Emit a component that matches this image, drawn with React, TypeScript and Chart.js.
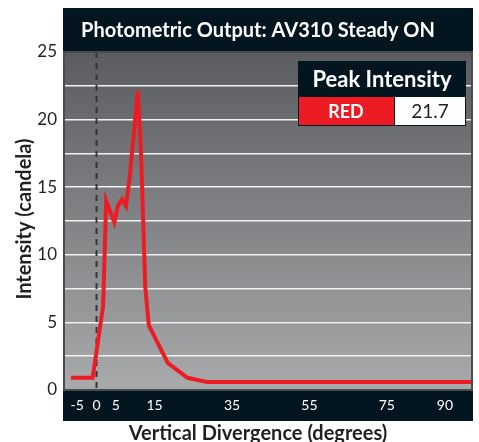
import React, { useEffect, useRef } from "react";
import { Chart, registerables } from "chart.js";

Chart.register(...registerables);

const chartTitle = "Photometric Output: AV310 Steady ON";
const xAxisTitle = "Vertical Divergence (degrees)";
const yAxisTitle = "Intensity (candela)";
const xTickValues = [-5, 0, 5, 15, 35, 55, 75, 90];
const yTickStep = 2.5;
const divergence = [-6.6, -1, 1.7, 2.5, 4.6, 5.5, 6.6, 7.6, 8.6, 10.65, 11.5, 12.6, 13.5, 18.4, 23.5, 28.5, 97];
const intensity = [0.9, 0.9, 6.2, 14.0, 12.4, 13.6, 14.1, 13.6, 15.8, 22.1, 17.5, 7.6, 4.8, 2.0, 0.9, 0.6, 0.6];
const seriesName = "RED";
const peakLabel = "Peak Intensity";
const peakValue = "21.7";

const DARK = "#031620";
const FONT = "Lato, 'DejaVu Sans', sans-serif";

const decor = {
  id: "decor",
  beforeDraw(chart: any) {
    const { ctx, chartArea } = chart;
    const { left, top, right, bottom } = chartArea;
    ctx.save();
    ctx.fillStyle = DARK;
    ctx.fillRect(left - 1, 8, right - left + 2, top - 8);
    ctx.fillRect(left - 1, bottom + 1, right - left + 2, 30);
    const g = ctx.createLinearGradient(0, top, 0, bottom);
    g.addColorStop(0, "#5b5c5f");
    g.addColorStop(1, "#a9aaac");
    ctx.fillStyle = g;
    ctx.fillRect(left, top, right - left, bottom - top);
    ctx.restore();
  },
  beforeDatasetsDraw(chart: any) {
    const { ctx, chartArea, scales } = chart;
    const x0 = scales.x.getPixelForValue(0);
    ctx.save();
    ctx.strokeStyle = "#333538";
    ctx.lineWidth = 2;
    ctx.setLineDash([6, 5]);
    ctx.beginPath();
    ctx.moveTo(x0, chartArea.top);
    ctx.lineTo(x0, chartArea.bottom);
    ctx.stroke();
    ctx.restore();
  },
  afterDraw(chart: any) {
    const { ctx, chartArea } = chart;
    const { left, top, right, bottom } = chartArea;
    ctx.save();
    ctx.strokeStyle = "#4a4b4d";
    ctx.lineWidth = 2;
    ctx.strokeRect(left, top, right - left, bottom - top);
    ctx.fillStyle = "#ffffff";
    ctx.font = `bold 20px ${FONT}`;
    ctx.textAlign = "center";
    ctx.textBaseline = "middle";
    ctx.fillText(chartTitle, 258, 31);
    ctx.fillStyle = "#231f20";
    ctx.font = `bold 20px ${FONT}`;
    ctx.textBaseline = "alphabetic";
    ctx.fillText(xAxisTitle, 258, 440);
    ctx.save();
    ctx.translate(31, 219);
    ctx.rotate(-Math.PI / 2);
    ctx.fillText(yAxisTitle, 0, 0);
    ctx.restore();
    ctx.textBaseline = "middle";
    const bx = 298, by = 61, bw = 168, bh = 65, hh = 36, split = 96;
    ctx.fillStyle = DARK;
    ctx.fillRect(bx, by, bw, bh);
    ctx.fillStyle = "#ed1c24";
    ctx.fillRect(bx + 1, by + hh, split - 1, bh - hh - 1);
    ctx.fillStyle = "#ffffff";
    ctx.fillRect(bx + split + 1, by + hh, bw - split - 2, bh - hh - 1);
    ctx.fillStyle = "#ffffff";
    ctx.font = `bold 22px ${FONT}`;
    ctx.fillText(peakLabel, bx + bw / 2, by + 19);
    ctx.font = `bold 18px ${FONT}`;
    ctx.fillText(seriesName, bx + split / 2, by + hh + 15);
    ctx.fillStyle = "#231f20";
    ctx.font = `19px ${FONT}`;
    ctx.fillText(peakValue, bx + split + (bw - split) / 2, by + hh + 15);
    ctx.restore();
  },
};

export default function App() {
  const ref = useRef<HTMLCanvasElement>(null);
  useEffect(() => {
    if (!ref.current) return;
    const chart = new Chart(ref.current, {
      type: "line",
      data: {
        datasets: [
          {
            label: seriesName,
            data: divergence.map((x, i) => ({ x, y: intensity[i] })),
            borderColor: "#ed1c24",
            borderWidth: 4,
            pointRadius: 0,
            tension: 0,
            fill: false,
          },
        ],
      },
      options: {
        responsive: false,
        animation: false,
        layout: { padding: { top: 52, right: 7, left: 0, bottom: 0 } },
        plugins: { legend: { display: false }, title: { display: false }, tooltip: { enabled: false } },
        scales: {
          x: {
            type: "linear",
            min: -8.4,
            max: 97,
            afterFit(scale: any) {
              scale.height = 52;
            },
            afterBuildTicks(scale: any) {
              scale.ticks = xTickValues.map((v) => ({ value: v }));
            },
            grid: { display: false, drawTicks: false },
            border: { display: false },
            ticks: {
              color: "#ffffff",
              font: { family: FONT, size: 14 },
              padding: 7,
              maxRotation: 0,
              autoSkip: false,
              callback: (v: any) => String(v),
            },
          },
          y: {
            min: 0,
            max: 25,
            afterFit(scale: any) {
              scale.width = 64;
            },
            ticks: {
              stepSize: yTickStep,
              color: "#231f20",
              font: { family: FONT, size: 17 },
              padding: 7,
              callback: (v: any) => (Number(v) % 5 === 0 ? String(v) : ""),
            },
            grid: { color: "#f2f2f2", lineWidth: 1.5, drawTicks: false },
            border: { display: false },
          },
        },
      },
      plugins: [decor],
    });
    return () => chart.destroy();
  }, []);
  return (
    <div style={{ position: "fixed", left: 0, top: 0, width: 479, height: 442, background: "#ffffff" }}>
      <canvas ref={ref} width={479} height={442} style={{ width: 479, height: 442 }} />
    </div>
  );
}
